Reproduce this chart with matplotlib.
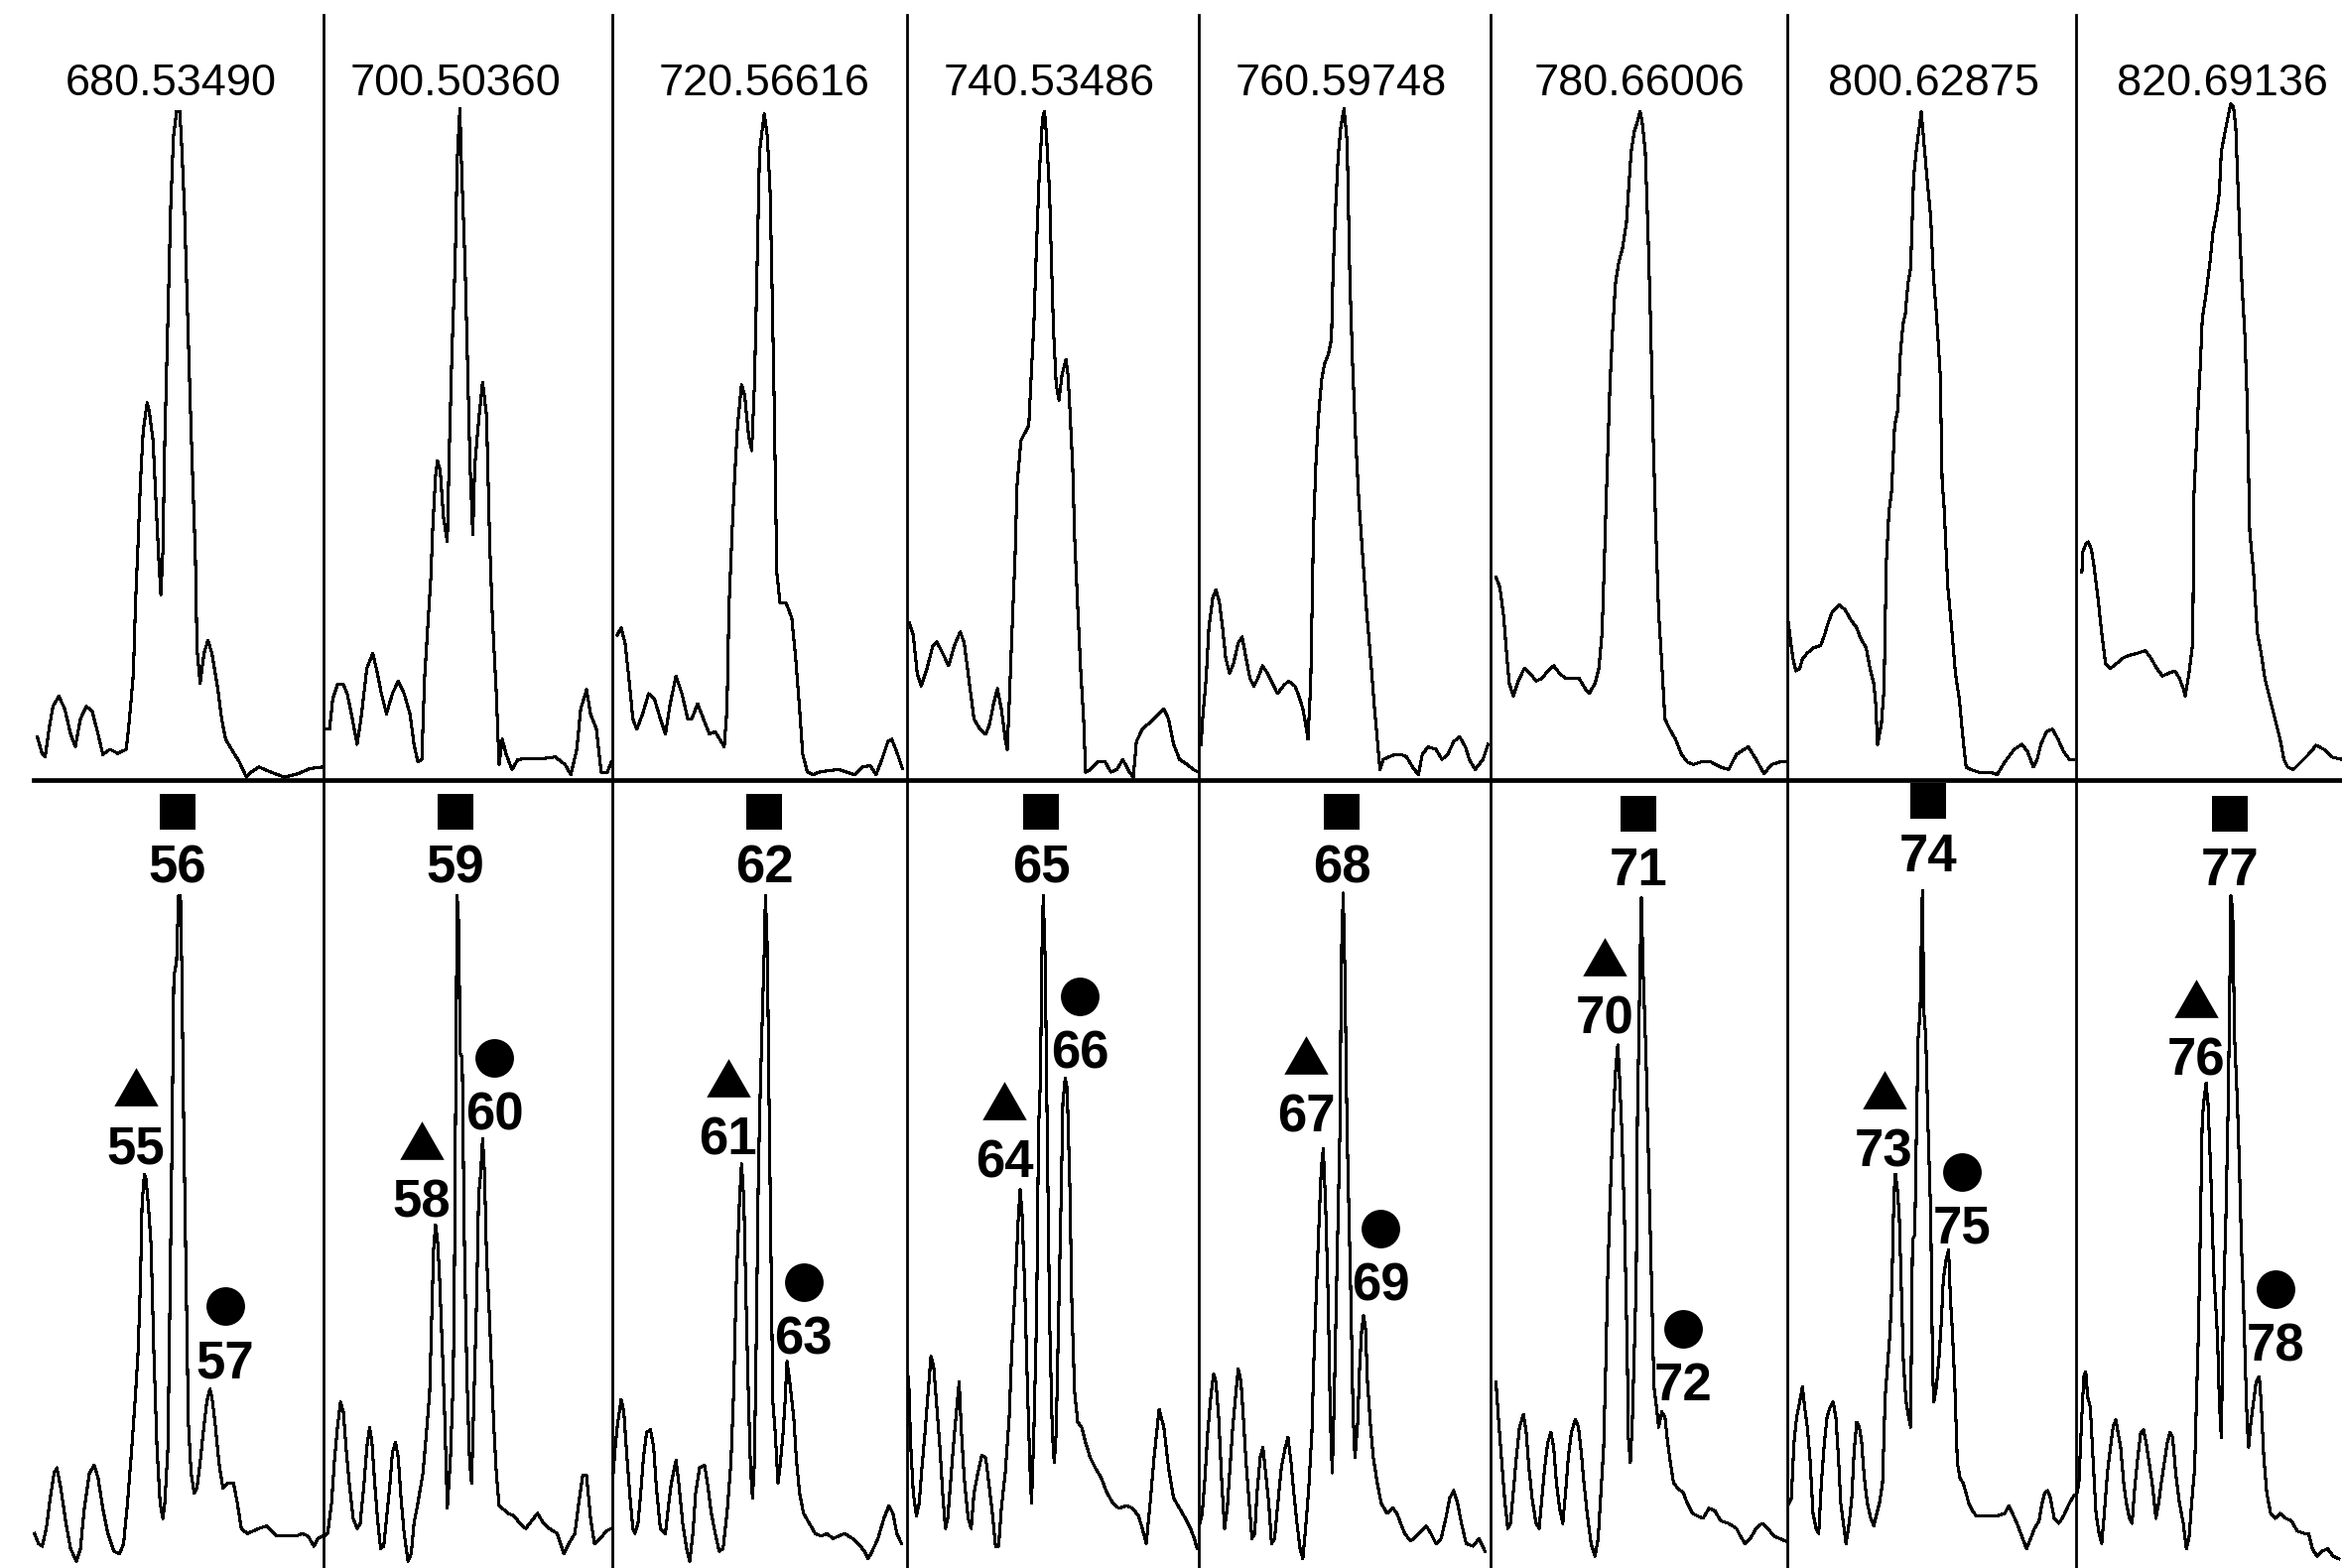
import numpy as np
import matplotlib.pyplot as plt
from matplotlib.lines import Line2D

plt.rcParams['font.family'] = ['Liberation Sans', 'DejaVu Sans']

# extracted ion chromatograms, one panel per m/z (scan, intensity in arbitrary units)
mz_values = ["680.53490", "700.50360", "720.56616", "740.53486",
             "760.59748", "780.66006", "800.62875", "820.69136"]
mz_label_x = [350, 337, 388, 362, 362, 377, 384, 384]
scan_span = [740, 735, 753, 745, 745, 755, 760, 700]

xic_680 = [(10,85),(23,50),(30,45),(40,100),(50,145),(65,165),(80,140),(95,90),(107,65),(120,120),(135,145),(150,135),(165,90),(177,50),(195,60),(215,52),(237,60),(245,120),(255,210),(260,340),(267,470),(273,590),(280,690),(290,745),(295,730),(305,670),(313,540),(320,430),(325,365),(330,450),(335,670),(343,915),(350,1130),(357,1270),(365,1320),(373,1320),(377,1270),(385,1130),(393,920),(400,740),(405,620),(413,440),(417,260),(425,190),(435,250),(445,275),(455,250),(470,180),(480,120),(490,80),(505,60),(525,35),(543,5),(555,15),(575,25),(605,15),(640,5),(675,12),(705,22),(735,25)]
xic_700 = [(3,100),(15,100),(23,160),(35,188),(50,188),(60,170),(73,120),(85,70),(95,120),(110,220),(125,250),(137,210),(147,170),(160,130),(175,170),(190,195),(205,170),(220,130),(230,70),(240,35),(250,40),(257,200),(265,300),(273,400),(278,500),(285,600),(290,630),(297,610),(305,520),(315,470),(320,650),(327,850),(335,1020),(340,1220),(347,1325),(352,1195),(360,1025),(367,810),(373,620),(380,485),(385,620),(395,710),(405,785),(415,720),(423,470),(430,320),(440,170),(447,30),(455,80),(465,50),(480,20),(495,40),(525,42),(560,42),(590,45),(615,30),(630,10),(645,60),(655,140),(670,178),(680,130),(695,100),(707,15),(723,15),(733,35)]
xic_720 = [(13,285),(23,300),(33,270),(43,200),(53,120),(63,100),(78,130),(93,170),(108,160),(123,120),(136,90),(148,150),(163,205),(178,170),(193,120),(203,120),(218,150),(233,120),(248,90),(263,95),(278,75),(286,65),(293,140),(298,340),(306,490),(313,605),(320,700),(330,780),(338,760),(348,680),(356,650),(363,780),(368,950),(376,1240),(383,1285),(388,1315),(396,1270),(403,1160),(408,970),(413,760),(420,410),(428,350),(443,350),(458,320),(468,240),(478,140),(486,50),(498,15),(513,10),(528,15),(553,18),(578,20),(598,15),(618,10),(638,25),(658,28),(673,10),(688,40),(703,75),(713,80),(728,50),(740,22)]
xic_740 = [(5,310),(15,285),(25,210),(35,185),(50,220),(65,265),(75,272),(90,250),(105,225),(120,265),(135,292),(145,270),(155,210),(170,120),(185,100),(200,90),(210,110),(220,150),(230,180),(240,140),(250,80),(255,60),(260,150),(267,290),(275,440),(280,580),(290,670),(300,685),(310,700),(317,810),(323,900),(330,1060),(337,1200),(345,1305),(350,1320),(355,1275),(363,1160),(368,1020),(373,890),(380,780),(387,750),(395,800),(405,830),(410,800),(415,730),(422,620),(427,480),(435,340),(443,210),(450,120),(455,15),(467,20),(485,35),(505,35),(520,15),(535,20),(550,40),(567,15),(577,5),(585,75),(600,100),(615,110),(635,125),(655,140),(667,120),(680,70),(695,40),(715,30),(730,20),(743,15)]
xic_760 = [(5,70),(10,130),(18,200),(25,300),(35,360),(43,375),(52,350),(60,300),(68,240),(78,210),(88,230),(100,270),(110,282),(120,240),(130,200),(140,185),(150,200),(162,225),(175,210),(188,190),(200,170),(215,185),(228,195),(245,185),(255,165),(265,140),(272,110),(278,80),(285,190),(292,490),(298,620),(305,720),(313,790),(320,820),(330,840),(338,870),(342,1000),(348,1120),(355,1230),(362,1290),(370,1325),(378,1260),(385,990),(392,820),(400,670),(408,550),(418,440),(428,330),(438,240),(448,140),(455,80),(462,20),(470,40),(485,45),(500,50),(515,50),(530,45),(545,25),(560,10),(570,50),(585,65),(605,60),(620,40),(635,50),(650,75),(665,85),(680,65),(690,40),(705,20),(725,40),(738,70)]
xic_780 = [(13,400),(23,380),(33,320),(40,250),(47,190),(57,165),(70,195),(85,220),(100,210),(115,195),(130,200),(145,215),(160,225),(175,210),(190,200),(210,200),(225,200),(240,180),(250,170),(265,190),(275,220),(283,290),(288,410),(293,540),(298,660),(303,780),(310,890),(317,980),(325,1020),(335,1050),(345,1100),(350,1160),(357,1240),(365,1280),(373,1300),(380,1320),(385,1300),(393,1240),(400,1080),(407,890),(413,680),(420,490),(427,330),(435,230),(443,120),(455,100),(470,80),(485,50),(500,35),(515,30),(535,35),(560,35),(585,25),(605,20),(625,50),(655,65),(675,40),(695,12),(715,30),(735,35),(750,35)]
xic_800 = [(2,310),(7,280),(14,240),(22,215),(32,220),(40,240),(52,250),(67,260),(87,265),(97,285),(107,310),(117,330),(137,345),(152,335),(167,315),(182,300),(192,280),(207,260),(217,220),(227,190),(232,150),(237,70),(247,110),(254,180),(260,430),(267,530),(274,570),(282,700),(290,730),(297,840),(304,900),(310,920),(317,980),(324,1010),(332,1190),(340,1250),(347,1290),(352,1320),(360,1250),(367,1190),(377,1110),(384,995),(392,920),(402,800),(407,590),(412,540),(422,380),(432,300),(442,210),(452,160),(462,80),(470,25),(482,20),(502,15),(532,15),(552,10),(572,35),(597,60),(617,70),(632,55),(647,25),(657,40),(667,70),(682,95),(697,100),(712,80),(727,55),(742,40),(754,40)]
xic_820 = [(15,410),(17,450),(25,465),(32,470),(40,455),(47,420),(57,360),(67,290),(77,230),(90,220),(107,230),(122,240),(137,245),(162,250),(182,255),(197,240),(212,220),(227,205),(242,210),(260,215),(272,200),(282,180),(287,165),(297,210),(307,270),(310,560),(317,670),(322,750),(327,820),(332,910),(342,960),(352,1020),(360,1080),(370,1120),(377,1160),(382,1240),(392,1280),(400,1310),(407,1335),(414,1330),(420,1290),(430,1090),(437,970),(444,880),(450,750),(457,490),(467,410),(477,290),(487,250),(497,200),(507,170),(517,140),(527,110),(537,80),(547,40),(557,25),(572,20),(592,35),(612,50),(632,68),(652,60),(672,45),(700,40)]

# isotope-resolved spectra below each chromatogram
spec_55_57 = [(3,68),(13,48),(23,43),(33,78),(43,138),(53,188),(60,198),(70,158),(83,88),(95,38),(110,13),(120,38),(130,118),(143,188),(155,203),(165,178),(177,118),(190,68),(205,33),(220,28),(230,48),(240,128),(250,228),(260,338),(267,428),(273,568),(277,718),(283,778),(287,768),(293,718),(300,638),(307,428),(315,238),(323,128),(330,98),(335,128),(343,238),(347,468),(353,818),(358,1168),(365,1198),(370,1328),(375,1328),(378,1198),(383,888),(390,538),(395,288),(402,188),(410,148),(417,158),(425,208),(433,268),(442,328),(450,353),(455,338),(463,288),(473,208),(483,158),(495,168),(510,168),(520,128),(530,78),(545,68),(560,73),(575,78),(595,83),(620,63),(645,63),(670,63),(685,68),(700,63),(715,43),(725,58),(737,63)]
spec_58_60 = [(3,63),(10,68),(20,128),(27,208),(35,278),(43,328),(50,308),(57,238),(65,168),(75,98),(85,78),(93,88),(103,168),(110,238),(117,278),(123,248),(130,168),(137,98),(145,38),(153,43),(160,98),(168,158),(175,228),(183,248),(190,218),(197,138),(205,68),(215,13),(223,28),(230,88),(240,128),(253,188),(263,278),(270,348),(275,488),(280,628),(285,678),(290,648),(295,578),(303,418),(308,308),(315,118),(323,218),(330,368),(333,568),(337,1008),(340,1328),(345,1258),(347,1018),(353,1008),(358,668),(365,378),(372,208),(377,168),(383,338),(390,538),(395,738),(400,778),(405,848),(410,778),(415,618),(423,488),(433,288),(440,188),(447,123),(455,118),(470,108),(485,103),(500,88),(515,78),(530,93),(545,108),(560,88),(575,78),(595,68),(612,28),(625,48),(640,68),(650,128),(660,183),(670,183),(680,98),(690,48),(705,58),(720,73),(733,78)]
spec_61_63 = [(3,188),(8,238),(13,278),(23,333),(30,308),(38,218),(46,138),(53,78),(58,68),(66,88),(73,148),(80,218),(88,268),(98,273),(106,238),(113,158),(123,78),(136,68),(143,118),(151,168),(163,213),(170,168),(180,88),(190,38),(198,13),(206,68),(213,148),(223,198),(236,203),(243,168),(253,108),(263,68),(273,33),(283,38),(293,108),(303,208),(310,348),(316,548),(321,648),(325,728),(330,798),(336,728),(341,548),(348,328),(353,198),(358,138),(363,208),(368,468),(373,778),(378,948),(384,1113),(388,1218),(391,1328),(396,1218),(400,938),(406,568),(410,328),(416,268),(423,168),(428,198),(436,268),(441,328),(446,408),(453,368),(463,298),(470,213),(478,148),(488,108),(503,88),(518,68),(533,63),(548,68),(563,58),(578,63),(593,68),(613,58),(628,48),(643,33),(653,18),(663,33),(678,58),(693,98),(706,123),(716,108),(726,68),(738,48)]
spec_64_66 = [(3,378),(8,248),(15,148),(23,103),(30,128),(37,198),(45,268),(53,348),(60,418),(67,398),(75,318),(83,238),(90,148),(97,78),(103,98),(110,168),(117,238),(125,308),(132,368),(138,268),(145,178),(155,98),(163,78),(170,148),(180,188),(190,223),(200,218),(208,168),(217,108),(225,43),(233,43),(240,118),(250,188),(260,298),(267,438),(275,548),(283,688),(288,748),(293,698),(300,548),(307,348),(313,198),(317,128),(323,268),(330,498),(335,868),(340,968),(343,1198),(347,1328),(352,1198),(357,868),(363,498),(370,268),(375,208),(380,268),(387,528),(393,748),(397,918),(403,968),(408,948),(415,748),(420,518),(427,348),(435,288),(445,278),(455,248),(467,218),(480,198),(495,178),(510,148),(525,128),(540,118),(560,123),(575,118),(590,103),(600,78),(610,48),(620,128),(630,218),(643,313),(655,278),(667,198),(680,138),(695,118),(710,98),(723,78),(733,58),(740,38)]
spec_67_69 = [(2,88),(8,108),(15,178),(22,268),(30,338),(37,383),(43,368),(50,298),(58,168),(65,78),(72,118),(78,188),(85,268),(93,338),(100,393),(107,368),(113,298),(120,208),(128,128),(135,58),(142,68),(148,148),(156,218),(163,238),(170,188),(178,128),(185,48),(193,58),(200,118),(210,198),(220,238),(227,258),(235,208),(242,148),(250,88),(258,38),(265,18),(273,88),(280,158),(288,268),(293,408),(298,518),(303,618),(308,718),(312,788),(317,828),(323,718),(330,518),(335,298),(340,188),(345,328),(350,518),(355,698),(360,878),(363,1198),(368,1333),(372,1188),(378,858),(383,688),(388,518),(393,308),(398,218),(405,288),(410,398),(415,468),(420,498),(425,473),(430,368),(438,278),(445,218),(455,168),(465,128),(480,108),(495,118),(505,108),(515,88),(525,68),(540,53),(555,63),(568,73),(580,83),(592,68),(605,48),(618,58),(630,98),(640,138),(650,153),(660,128),(670,88),(682,48),(700,43),(715,58),(730,33)]
spec_70_72 = [(13,368),(20,288),(27,218),(35,138),(43,78),(50,88),(57,148),(65,218),(73,278),(83,303),(90,268),(97,198),(105,138),(115,88),(123,78),(130,138),(137,198),(145,248),(153,268),(160,238),(167,168),(175,118),(183,88),(190,148),(197,218),(205,268),(215,293),(223,278),(230,228),(237,168),(245,108),(255,48),(265,23),(273,58),(280,148),(287,238),(293,418),(297,568),(303,718),(310,868),(317,978),(323,1033),(327,978),(333,868),(340,688),(347,428),(350,258),(355,208),(360,288),(365,428),(370,568),(373,888),(377,1068),(380,1208),(383,1323),(388,1168),(395,1008),(400,848),(405,688),(410,528),(415,358),(420,328),(427,278),(435,308),(443,298),(450,248),(457,208),(465,168),(475,158),(490,148),(500,128),(513,108),(525,103),(540,98),(555,118),(570,113),(585,93),(605,88),(625,78),(635,63),(647,48),(660,58),(675,78),(690,88),(705,78),(720,63),(735,58),(750,53)]
spec_73_75 = [(4,128),(10,138),(17,248),(24,298),(32,328),(39,358),(45,318),(52,278),(59,218),(67,108),(75,78),(82,68),(89,168),(97,248),(104,298),(112,318),(120,328),(127,298),(134,218),(140,128),(147,88),(154,48),(162,88),(169,138),(175,228),(182,288),(189,278),(195,248),(202,178),(210,128),(219,98),(227,83),(235,108),(242,128),(250,168),(257,338),(264,408),(270,468),(275,568),(280,738),(284,778),(289,748),(294,698),(299,568),(305,408),(312,328),(319,298),(324,278),(329,648),(335,658),(339,848),(344,1048),(349,1098),(352,1228),(355,1338),(359,1098),(364,1048),(370,868),(377,698),(382,388),(385,328),(392,358),(399,418),(405,488),(410,568),(417,608),(424,628),(429,528),(434,468),(440,368),(447,208),(454,178),(462,168),(470,148),(477,128),(487,113),(497,103),(512,103),(532,103),(552,103),(572,108),(582,123),(592,108),(604,88),(614,68),(629,38),(640,58),(650,78),(662,93),(670,128),(677,148),(685,153),(692,138),(702,98),(714,88),(727,103),(742,128),(754,143)]
spec_76_78 = [(2,148),(7,168),(14,288),(20,378),(25,388),(30,338),(37,318),(44,218),(52,108),(60,68),(67,48),(74,108),(82,188),(90,238),(97,278),(104,293),(110,268),(117,238),(125,168),(132,128),(140,98),(147,88),(154,158),(162,218),(170,268),(177,273),(184,248),(192,208),(200,168),(210,98),(217,128),(224,168),(232,208),(240,248),(247,268),(254,258),(262,188),(272,128),(282,88),(290,38),(297,58),(304,128),(312,198),(317,338),(322,468),(327,668),(332,888),(337,928),(342,958),(347,918),(354,788),(362,588),(372,458),(377,328),(382,258),(388,528),(394,688),(400,908),(404,1118),(407,1328),(412,1298),(417,1048),(424,928),(430,788),(435,638),(440,538),(445,408),(450,288),(454,238),(460,288),(467,328),(474,368),(482,378),(487,328),(494,218),(502,148),(512,108),(524,98),(537,108),(552,98),(567,93),(582,73),(602,68),(612,68),(622,38),(634,23),(647,33),(662,38),(677,23),(692,18)]

xics = [xic_680, xic_700, xic_720, xic_740, xic_760, xic_780, xic_800, xic_820]
spectra = [spec_55_57, spec_58_60, spec_61_63, spec_64_66,
           spec_67_69, spec_70_72, spec_73_75, spec_76_78]

# peak labels: (number, x, y) for triangle, square, circle in each panel
peaks_tri = [(55,262,836),(58,250,730),(61,296,853),(64,248,808),
             (67,273,898),(70,290,1093),(73,254,830),(76,317,1010)]
peaks_sq = [(56,368,1390),(59,335,1390),(62,388,1390),(65,342,1390),
            (68,365,1390),(71,375,1386),(74,370,1413),(77,405,1386)]
peaks_circ = [(57,488,413),(60,435,903),(63,488,460),(66,440,1023),
              (69,463,565),(72,490,368),(75,460,678),(78,524,445)]

# layout (figure pixels)
W, H = 2360, 1580
panel_edges = [33.6, 326.2, 616.8, 914.4, 1208.3, 1502.3, 1801.3, 2092.2, 2360]
base_top = 785.7

fig = plt.figure(figsize=(W / 100, H / 100), dpi=100)

tri_marker = [(-1.15, -1), (1.15, -1), (0, 1)]

for i in range(8):
    left = panel_edges[i]
    width = panel_edges[i + 1] - left

    ax_t = fig.add_axes([left / W, (H - base_top) / H, width / W, base_top / H])
    ax_t.set_xlim(0, scan_span[i])
    ax_t.set_ylim(0, 1540)
    ax_t.axis('off')
    d = np.array(xics[i])
    ax_t.plot(d[:, 0], d[:, 1], color='black', lw=1.5, clip_on=False,
              antialiased=False)
    ax_t.annotate(mz_values[i], (mz_label_x[i], 1385), xytext=(0, -12),
                  textcoords='offset points', ha='center', va='baseline',
                  fontsize=32.5, annotation_clip=False)

    ax_b = fig.add_axes([left / W, 0, width / W, 800 / H])
    ax_b.set_xlim(0, scan_span[i])
    ax_b.set_ylim(0, 1568)
    ax_b.axis('off')
    d = np.array(spectra[i])
    ax_b.plot(d[:, 0], d[:, 1], color='black', lw=1.5, clip_on=False,
              antialiased=False)

    for (num, x, y), mk, ms, off in [(peaks_tri[i], tri_marker, 32, 115),
                                     (peaks_sq[i], 's', 26.5, 103),
                                     (peaks_circ[i], 'o', 28, 105)]:
        ax_b.annotate(str(num), (x, y), xytext=(0, -13.5),
                      textcoords='offset points', ha='center', va='baseline',
                      fontsize=38, fontweight='bold', annotation_clip=False)
        ax_b.plot([x], [y + off], marker=mk, markersize=ms, color='black',
                  markeredgewidth=0, linestyle='none', clip_on=False)

# panel separators and baseline rule
for xe in panel_edges[1:-1]:
    fig.add_artist(Line2D([xe / W, xe / W], [0, (H - 15) / H],
                          color='black', lw=2.0))
fig.add_artist(Line2D([panel_edges[0] / W, 1], [(H - base_top) / H] * 2,
                      color='black', lw=3.4))

fig.savefig('out.png', dpi=100, facecolor='white')
